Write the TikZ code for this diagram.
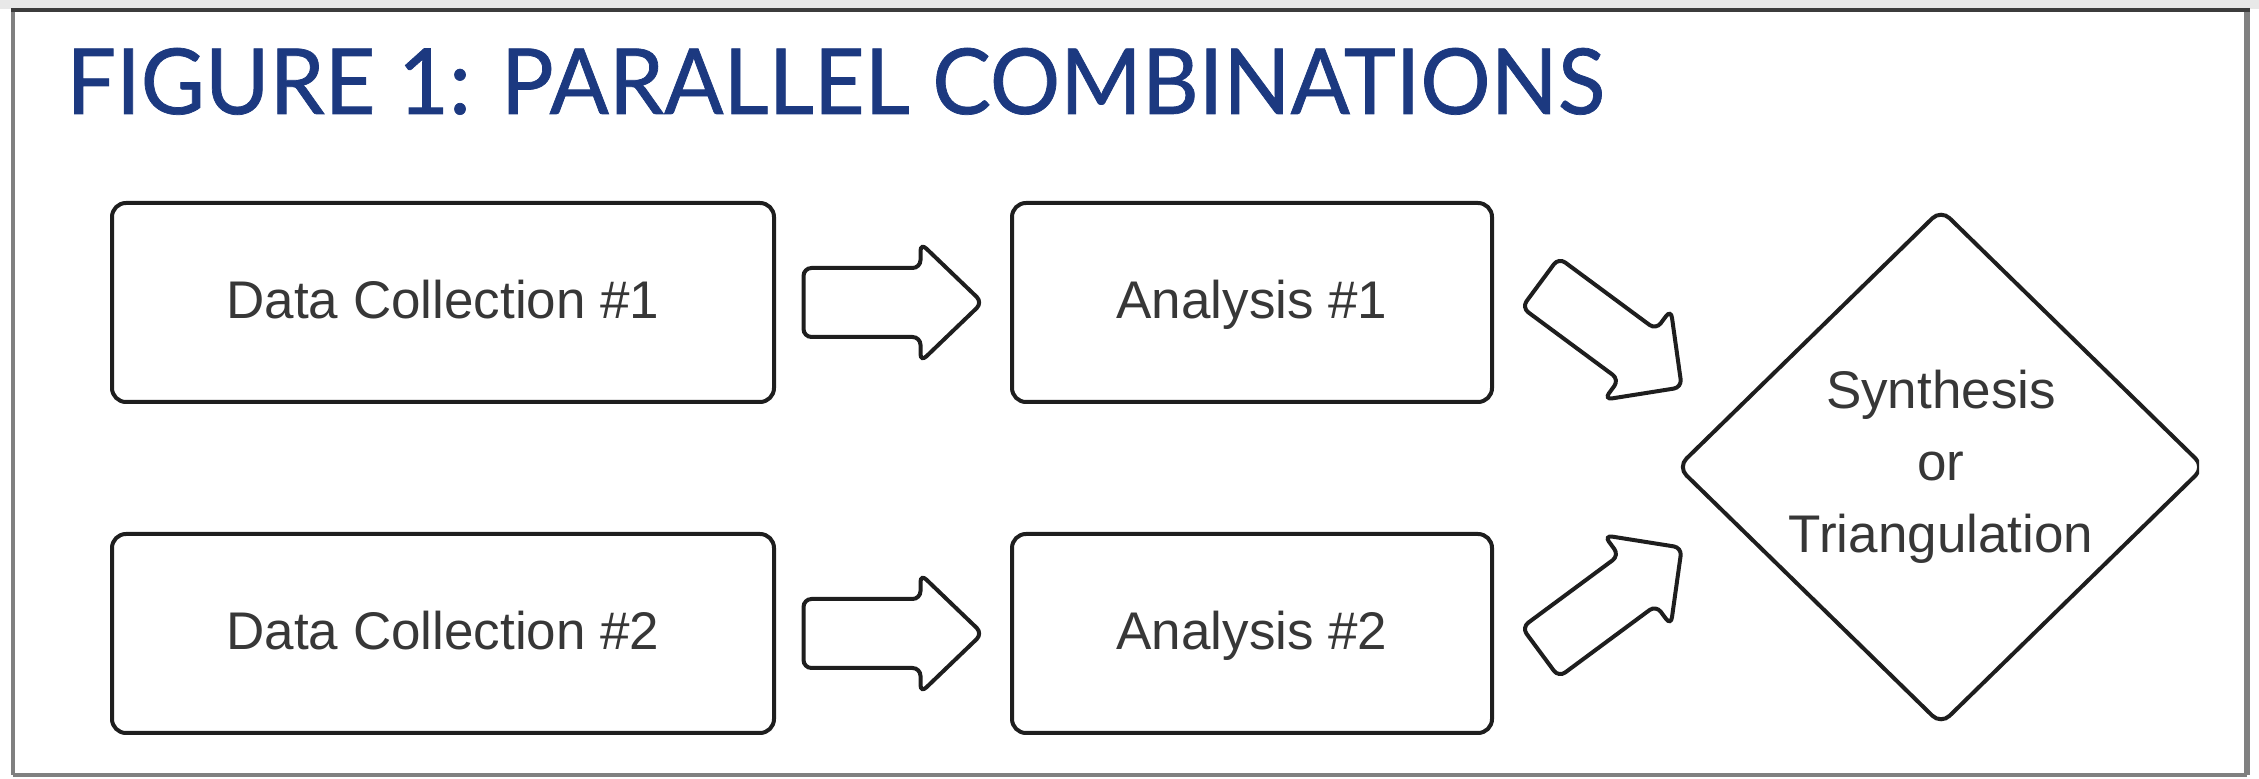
\documentclass[tikz,border=0pt]{standalone}
\usepackage{fontspec}
\setmainfont{Liberation Sans}
\newfontfamily\titlefont[FakeBold=0.8]{Lato}
\usetikzlibrary{shapes.geometric,calc}
\definecolor{titleblue}{RGB}{28,57,128}
\definecolor{ink}{RGB}{30,30,30}
\definecolor{labelgray}{RGB}{55,55,55}
\definecolor{framegray}{RGB}{128,128,128}
\definecolor{framedark}{RGB}{60,60,60}

\begin{document}
\begin{tikzpicture}[x=0.5pt,y=-0.5pt,
  stepbox/.style={draw=ink, line width=2pt, rounded corners=7pt,
    minimum height=99.5pt, inner sep=0pt, fill=white,
    font=\fontsize{26.5}{32}\selectfont, text=labelgray,
    text height=19pt, text depth=2.6pt},
  collectbox/.style={stepbox, minimum width=331pt},
  analysisbox/.style={stepbox, minimum width=240pt},
  blockarrow/.style={draw=ink, line width=2pt, rounded corners=4pt, fill=white},
  decision/.style={diamond, draw=ink, line width=2pt, rounded corners=6pt,
    minimum width=264pt, minimum height=258pt, inner sep=0pt,
    align=center, text=labelgray, font=\fontsize{26.5}{36}\selectfont}
]
\useasboundingbox (0,0) rectangle (2259,779);

% outer frame
\fill[gray!18] (0,0) rectangle (2259,9);
\draw[framegray, line width=2pt] (13,10) -- (13,775);
\draw[framegray, line width=3pt] (2247,10) -- (2247,775);
\draw[framegray, line width=2pt] (13,775) -- (2247,775);
\draw[framedark, line width=2pt] (11,10) -- (2250,10);

% heading
\node[anchor=base west, inner sep=0pt, text=titleblue] (title) at (66,114)
  {\resizebox{769pt}{33pt}{\titlefont FIGURE 1: PARALLEL COMBINATIONS}};

% two parallel strands
\node[collectbox]  (dc1) at (443,302.5)  {Data Collection \#1};
\node[analysisbox] (an1) at (1252,302.5) {Analysis \#1};
\node[collectbox]  (dc2) at (443,633.5)  {Data Collection \#2};
\node[analysisbox] (an2) at (1252,633.5) {Analysis \#2};

% merging step, its right tip cut off by the frame edge
\begin{scope}
  \clip (1600,150) rectangle (2199,770);
  \node[decision] (syn) at (1941,467) {Synthesis\\or\\Triangulation};
\end{scope}

% block arrows, drawn around their centre points
\coordinate (a1) at ($(dc1.east)!0.5!(an1.west)$);
\coordinate (a2) at ($(dc2.east)!0.5!(an2.west)$);
\coordinate (s1) at (1611,335);
\coordinate (s2) at (1611,600);

\foreach \c in {a1,a2}{
  \begin{scope}[shift={(\c)}]
    \draw[blockarrow] (-89.5,-34.5) -- (27.5,-34.5) -- (27.5,-59.5)
      -- (89.5,0) -- (27.5,59.5) -- (27.5,34.5) -- (-89.5,34.5) -- cycle;
  \end{scope}
}
\foreach \c/\ang in {s1/-36.5,s2/36.5}{
  \begin{scope}[shift={(\c)}, rotate=\ang]
    \draw[blockarrow] (-88,-31) -- (33,-31) -- (33,-56)
      -- (88,0) -- (33,56) -- (33,31) -- (-88,31) -- cycle;
  \end{scope}
}
\end{tikzpicture}
\end{document}
